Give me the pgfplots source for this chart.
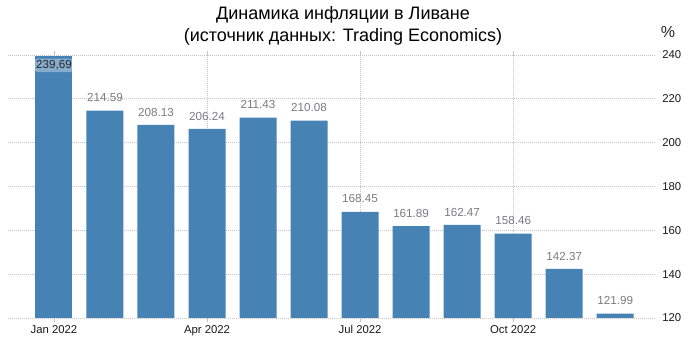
\documentclass[border=0pt]{standalone}
\usepackage{pgfplots}
\pgfplotsset{compat=1.18}
\usepackage{fontspec}
\setmainfont{Liberation Sans}
\definecolor{barblue}{RGB}{70,130,180}
\definecolor{lblgray}{RGB}{122,122,132}
\definecolor{gridgray}{RGB}{195,195,195}
\begin{document}
\begin{tikzpicture}
\useasboundingbox (0pt,0pt) rectangle (516pt,256.5pt);
\node[font=\fontsize{13.5pt}{15pt}\selectfont] at (257.25pt,245.25pt) {Динамика инфляции в Ливане};
\node[font=\fontsize{13.5pt}{15pt}\selectfont] at (257.25pt,228.75pt) {(источник данных: Trading Economics)};
\node[font=\fontsize{12pt}{14pt}\selectfont, text=black!85] at (501pt,232.5pt) {\%};
\begin{axis}[
  at={(6pt,18pt)}, anchor=south west,
  scale only axis, width=485.25pt, height=197.25pt,
  xmin=-0.9, xmax=11.78, ymin=120, ymax=240,
  ybar, bar width=27.75pt,
  axis line style={draw=none},
  yticklabel pos=right,
  ytick={120,140,...,240},
  xtick={0,3,6,9},
  xticklabels={Jan 2022,Apr 2022,Jul 2022,Oct 2022},
  ymajorgrids, xmajorgrids,
  grid style={gridgray, line width=0.5pt, dash pattern=on 0.75pt off 0.75pt},
  ytick style={draw=none},
  xtick style={draw=gridgray, line width=0.6pt},
  tick align=outside, major tick length=3pt,
  ticklabel style={font=\fontsize{8.5pt}{10pt}\selectfont, text=black!90},
  /pgf/number format/assume math mode=true,
  yticklabel style={xshift=-1pt},
  xticklabel style={yshift=1pt},
  clip=false,
]
\addplot[fill=barblue, draw=none, bar shift=0pt,
  nodes near coords={239,69},
  every node near coord/.style={anchor=north, yshift=-2pt, font=\fontsize{8.75pt}{10pt}\selectfont, text=black!85, fill=white, fill opacity=0.35, text opacity=1, rounded corners=3pt, inner sep=1.5pt}]
  coordinates {(0,239.69)};
\addplot[fill=barblue, draw=none, bar shift=0pt,
  nodes near coords,
  nodes near coords style={/pgf/number format/.cd, fixed, fixed zerofill, precision=2, assume math mode=true},
  every node near coord/.style={anchor=south, yshift=3pt, font=\fontsize{8.75pt}{10pt}\selectfont, text=lblgray}]
  coordinates {(1,214.59) (2,208.13) (3,206.24) (4,211.43) (5,210.08) (6,168.45) (7,161.89) (8,162.47) (9,158.46) (10,142.37) (11,121.99)};
\end{axis}
\end{tikzpicture}
\end{document}
